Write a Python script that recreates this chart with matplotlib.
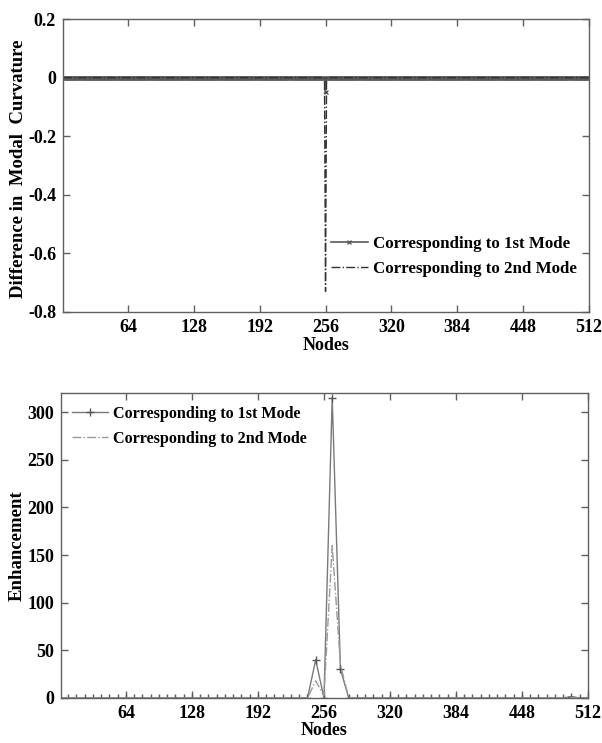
import numpy as np
import matplotlib
matplotlib.use("Agg")
import matplotlib.pyplot as plt

# ---- data -------------------------------------------------------------
# Difference in modal curvature (all nodes 1..512, zero except near damage)
n_nodes = 512
curv_spike_nodes = [255, 256, 257]
curv_mode1_spike = [0.0, -0.05, 0.0]
curv_mode2_spike = [0.0, -0.73, 0.0]

# Enhancement sampled every 8 nodes (zero except near damage)
enh_step = 8
enh_spike_nodes = [240, 248, 256, 264, 272, 280, 496]
enh_mode1_spike = [0, 40, 0, 315, 30, 0, 1.5]
enh_mode2_spike = [0, 18, 2, 160, 35, 0, 0.5]

x_ticks = [64, 128, 192, 256, 320, 384, 448, 512]
curv_yticks = [0.2, 0, -0.2, -0.4, -0.6, -0.8]
curv_yticklabels = ["0.2", "0", "-0.2", "-0.4", "-0.6", "-0.8"]
enh_yticks = [0, 50, 100, 150, 200, 250, 300]

label_mode1 = "Corresponding to 1st Mode"
label_mode2 = "Corresponding to 2nd Mode"

# ---- build series ----------------------------------------------------
nodes = np.arange(1, n_nodes + 1)
curv_mode1 = np.zeros(n_nodes)
curv_mode2 = np.zeros(n_nodes)
for n, a, b in zip(curv_spike_nodes, curv_mode1_spike, curv_mode2_spike):
    curv_mode1[n - 1] = a
    curv_mode2[n - 1] = b

enh_nodes = np.arange(0, n_nodes + 1, enh_step)
enh_mode1 = np.zeros(len(enh_nodes))
enh_mode2 = np.zeros(len(enh_nodes))
for n, a, b in zip(enh_spike_nodes, enh_mode1_spike, enh_mode2_spike):
    i = n // enh_step
    enh_mode1[i] = a
    enh_mode2[i] = b

# ---- style ------------------------------------------------------------
plt.rcParams["font.family"] = ["Liberation Serif", "DejaVu Serif"]
plt.rcParams["font.weight"] = "bold"
plt.rcParams["axes.labelweight"] = "bold"

spine_col = "#606060"

fig = plt.figure(figsize=(6.02, 7.43), dpi=100)
ax1 = fig.add_axes([0.1047, 0.5801, 0.8738, 0.3943])
ax2 = fig.add_axes([0.1013, 0.0606, 0.8754, 0.4105])


def style_axes(ax):
    for s in ax.spines.values():
        s.set_color(spine_col)
        s.set_linewidth(1.0)
    ax.tick_params(direction="in", length=5, width=1, color=spine_col,
                   top=True, right=True, labelsize=13, pad=5)
    for lab in ax.get_xticklabels() + ax.get_yticklabels():
        lab.set_fontweight("bold")


# top: difference in modal curvature
ax1.plot(nodes, curv_mode1, color="#5a5a5a", lw=1.2, marker="x",
         markersize=3, markeredgewidth=0.9, label=label_mode1)
ax1.plot(nodes, curv_mode2, color="#333333", lw=1.0, ls="-.",
         label=label_mode2)
ax1.set_xlim(1, 512)
ax1.set_ylim(-0.8, 0.2)
ax1.set_xticks(x_ticks)
ax1.set_yticks(curv_yticks)
ax1.set_yticklabels(curv_yticklabels)
ax1.set_xlabel("Nodes", fontsize=13, labelpad=1)
ax1.set_ylabel("Difference in  Modal  Curvature", fontsize=13.5)
ax1.yaxis.set_label_coords(-0.068, 0.49)
style_axes(ax1)
ax1.legend(loc="lower right", bbox_to_anchor=(1.0, 0.08), frameon=False,
           prop={"weight": "bold", "size": 12.2}, handlelength=2.2,
           handletextpad=0.3, labelspacing=0.5, borderaxespad=0.3)

# bottom: enhancement
ax2.plot(enh_nodes, enh_mode1, color="#7a7a7a", lw=1.0, marker="+",
         markersize=6, markeredgewidth=1.0, markeredgecolor="#555555",
         label=label_mode1)
ax2.plot(enh_nodes, enh_mode2, color="#9a9a9a", lw=1.0, ls="-.",
         label=label_mode2)
ax2.set_xlim(1, 512)
ax2.set_ylim(0, 320)
ax2.set_xticks(x_ticks)
ax2.set_yticks(enh_yticks)
ax2.set_xlabel("Nodes", fontsize=13, labelpad=0)
ax2.set_ylabel("Enhancement", fontsize=13.5)
ax2.yaxis.set_label_coords(-0.066, 0.5)
style_axes(ax2)
ax2.legend(loc="upper left", bbox_to_anchor=(0.0, 0.995), frameon=False,
           prop={"weight": "bold", "size": 11.6}, handlelength=2.2,
           handletextpad=0.3, labelspacing=0.55, borderaxespad=0.3)

fig.savefig("out.png", dpi=100)
